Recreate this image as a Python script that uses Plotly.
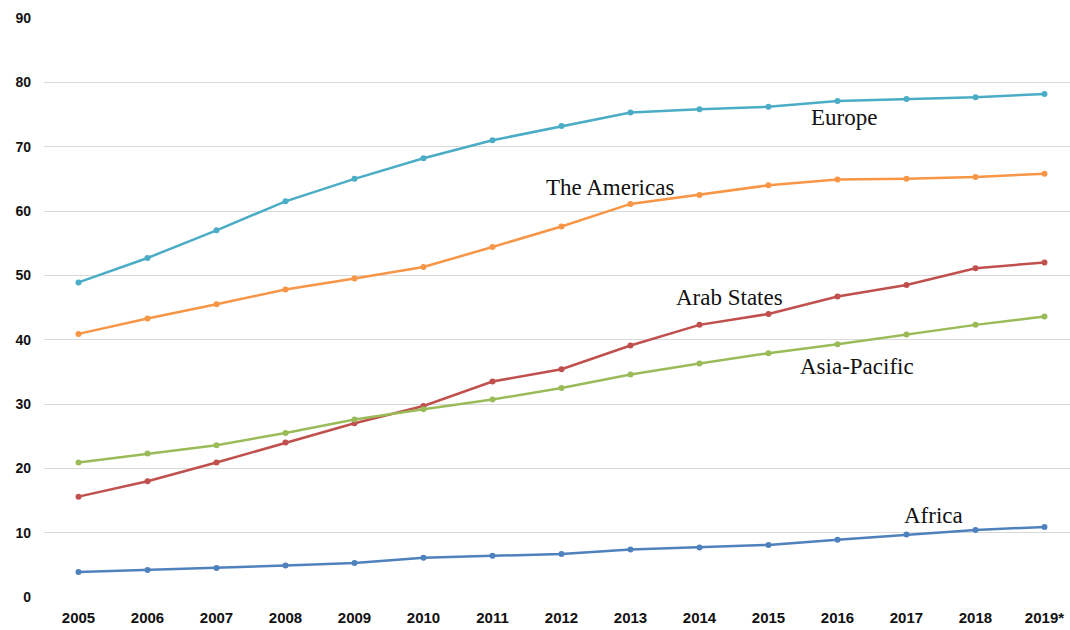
import plotly.graph_objects as go

years = ["2005", "2006", "2007", "2008", "2009", "2010", "2011", "2012",
         "2013", "2014", "2015", "2016", "2017", "2018", "2019*"]

europe = [48.9, 52.7, 57.0, 61.5, 65.0, 68.2, 71.0, 73.2, 75.3, 75.8, 76.2, 77.1, 77.4, 77.7, 78.2]
americas = [40.9, 43.3, 45.5, 47.8, 49.5, 51.3, 54.4, 57.6, 61.1, 62.5, 64.0, 64.9, 65.0, 65.3, 65.8]
arab_states = [15.6, 18.0, 20.9, 24.0, 27.0, 29.7, 33.5, 35.4, 39.1, 42.3, 44.0, 46.7, 48.5, 51.1, 52.0]
asia_pacific = [20.9, 22.3, 23.6, 25.5, 27.6, 29.2, 30.7, 32.5, 34.6, 36.3, 37.9, 39.3, 40.8, 42.3, 43.6]
africa = [3.9, 4.2, 4.5, 4.9, 5.3, 6.1, 6.4, 6.7, 7.4, 7.7, 8.1, 8.9, 9.7, 10.4, 10.9]

series = [
    ("Europe", europe, "#4BACC6"),
    ("The Americas", americas, "#F79646"),
    ("Arab States", arab_states, "#C0504D"),
    ("Asia-Pacific", asia_pacific, "#9BBB59"),
    ("Africa", africa, "#4F81BD"),
]

# label name, x position (category index), y value
labels = [
    ("Europe", 11.09, 74.5),
    ("The Americas", 7.71, 63.7),
    ("Arab States", 9.43, 46.5),
    ("Asia-Pacific", 11.28, 35.9),
    ("Africa", 12.39, 12.7),
]

fig = go.Figure()
for name, vals, col in series:
    fig.add_trace(go.Scatter(
        x=years, y=vals, mode="lines+markers", name=name,
        line=dict(color=col, width=2.5),
        marker=dict(color=col, size=6),
    ))

for text, xi, yv in labels:
    fig.add_annotation(
        x=xi, y=yv, xref="x", yref="y", text=text, showarrow=False,
        font=dict(family="Liberation Serif, Times New Roman, serif", size=23, color="#111111"),
    )

fig.update_layout(
    width=1070, height=630,
    margin=dict(l=44, r=0, t=18, b=33),
    paper_bgcolor="white", plot_bgcolor="white",
    showlegend=False,
    xaxis=dict(
        type="category", range=[-0.5, 14.37],
        showgrid=False, zeroline=False, showline=False,
        tickfont=dict(family="Liberation Sans, Arial, sans-serif", size=15, color="#111111", weight="bold"),
        ticks="", ticklabelstandoff=10,
    ),
    yaxis=dict(
        range=[0, 90], dtick=10, tick0=0,
        showgrid=True, gridcolor="#D9D9D9", gridwidth=1,
        zeroline=False, showline=False,
        tickfont=dict(family="Liberation Sans, Arial, sans-serif", size=14, color="#111111", weight="bold"),
        ticks="", ticklabelstandoff=12,
    ),
)

fig.write_html("out.html")
